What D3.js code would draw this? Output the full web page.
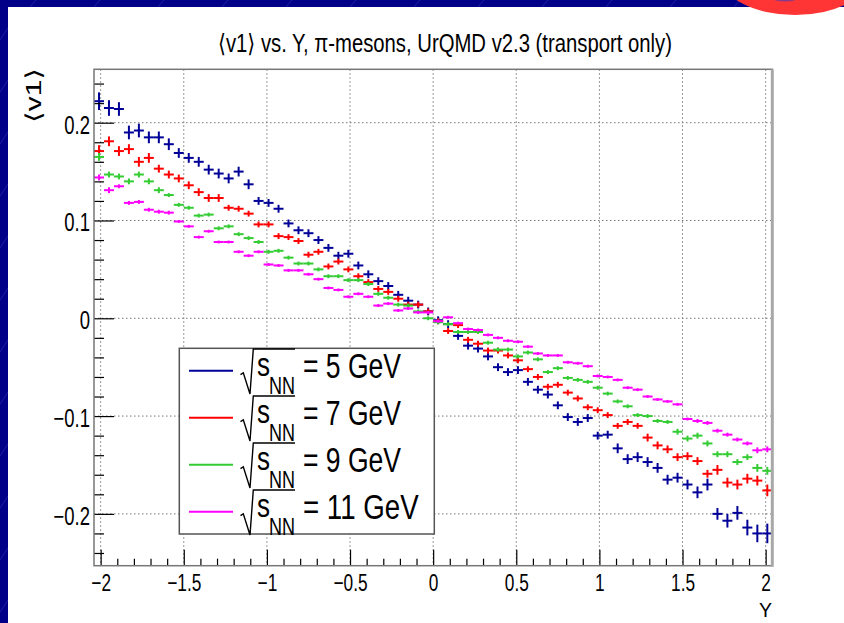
<!DOCTYPE html>
<html>
<head>
<meta charset="utf-8">
<script src="https://cdn.jsdelivr.net/npm/d3@7"></script>
<style>
  body { margin: 0; background: #000088; }
  svg { display: block; }
</style>
</head>
<body>
<svg id="chart" width="844" height="623"></svg>
<script>
// bin centres of the rapidity histogram (68 bins, width 0.06)
const rapidity = [
  -2.01, -1.95, -1.89, -1.83, -1.77, -1.71, -1.65, -1.59, -1.53, -1.47,
  -1.41, -1.35, -1.29, -1.23, -1.17, -1.11, -1.05, -0.99, -0.93, -0.87,
  -0.81, -0.75, -0.69, -0.63, -0.57, -0.51, -0.45, -0.39, -0.33, -0.27,
  -0.21, -0.15, -0.09, -0.03, 0.03, 0.09, 0.15, 0.21, 0.27, 0.33,
  0.39, 0.45, 0.51, 0.57, 0.63, 0.69, 0.75, 0.81, 0.87, 0.93,
  0.99, 1.05, 1.11, 1.17, 1.23, 1.29, 1.35, 1.41, 1.47, 1.53,
  1.59, 1.65, 1.71, 1.77, 1.83, 1.89, 1.95, 2.01]
const binHalfWidth = 0.03

const energies = ["5", "7", "9", "11"]
const seriesColors = ["#000099", "#ff0000", "#33cc33", "#ff00ff"]

const v1_5GeV = [
  0.222, 0.215, 0.214, 0.190, 0.192, 0.185, 0.185, 0.178, 0.169, 0.164,
  0.160, 0.152, 0.148, 0.143, 0.150, 0.137, 0.120, 0.118, 0.112, 0.097,
  0.090, 0.087, 0.080, 0.072, 0.064, 0.066, 0.054, 0.045, 0.038, 0.033,
  0.024, 0.018, 0.014, 0.007, -0.002, -0.006, -0.018, -0.028, -0.031, -0.039,
  -0.050, -0.055, -0.053, -0.065, -0.073, -0.078, -0.089, -0.101, -0.106, -0.102,
  -0.120, -0.119, -0.133, -0.144, -0.142, -0.147, -0.153, -0.165, -0.163, -0.170,
  -0.178, -0.170, -0.200, -0.207, -0.199, -0.214, -0.220, -0.220]
const v1_7GeV = [
  0.171, 0.181, 0.171, 0.173, 0.160, 0.164, 0.153, 0.147, 0.143, 0.136,
  0.129, 0.123, 0.123, 0.113, 0.112, 0.107, 0.096, 0.096, 0.084, 0.083,
  0.079, 0.065, 0.068, 0.053, 0.058, 0.050, 0.043, 0.037, 0.030, 0.027,
  0.020, 0.014, 0.014, 0.007, -0.003, -0.013, -0.007, -0.022, -0.026, -0.033,
  -0.033, -0.038, -0.043, -0.052, -0.060, -0.070, -0.068, -0.076, -0.082, -0.091,
  -0.094, -0.099, -0.110, -0.106, -0.110, -0.122, -0.130, -0.134, -0.142, -0.141,
  -0.146, -0.159, -0.155, -0.168, -0.170, -0.164, -0.166, -0.176]
const v1_9GeV = [
  0.165, 0.147, 0.145, 0.140, 0.147, 0.140, 0.131, 0.126, 0.116, 0.113,
  0.105, 0.106, 0.092, 0.094, 0.086, 0.082, 0.078, 0.068, 0.069, 0.062,
  0.056, 0.056, 0.050, 0.043, 0.043, 0.039, 0.039, 0.035, 0.025, 0.021,
  0.014, 0.013, 0.007, 0.000, -0.004, -0.006, -0.014, -0.014, -0.014, -0.025,
  -0.032, -0.032, -0.039, -0.035, -0.042, -0.055, -0.051, -0.061, -0.063, -0.065,
  -0.071, -0.077, -0.085, -0.090, -0.099, -0.100, -0.105, -0.106, -0.116, -0.123,
  -0.120, -0.128, -0.139, -0.139, -0.147, -0.142, -0.153, -0.156]
const v1_11GeV = [
  0.144, 0.131, 0.135, 0.118, 0.119, 0.111, 0.109, 0.108, 0.099, 0.094,
  0.083, 0.089, 0.078, 0.078, 0.068, 0.064, 0.068, 0.055, 0.054, 0.049,
  0.049, 0.045, 0.040, 0.031, 0.029, 0.022, 0.025, 0.022, 0.013, 0.015,
  0.008, 0.010, 0.006, 0.006, -0.003, 0.001, -0.005, -0.011, -0.012, -0.017,
  -0.020, -0.023, -0.024, -0.029, -0.036, -0.038, -0.038, -0.045, -0.046, -0.049,
  -0.059, -0.060, -0.063, -0.071, -0.073, -0.080, -0.083, -0.085, -0.088, -0.103,
  -0.105, -0.107, -0.115, -0.119, -0.124, -0.128, -0.135, -0.134]

// statistical errors (vertical half bars)
const err_5GeV = [
  0.009, 0.008, 0.007, 0.007, 0.007, 0.006, 0.006, 0.006, 0.005, 0.005,
  0.005, 0.005, 0.005, 0.005, 0.005, 0.005, 0.004, 0.004, 0.004, 0.004,
  0.004, 0.004, 0.004, 0.004, 0.004, 0.004, 0.004, 0.004, 0.004, 0.004,
  0.004, 0.004, 0.004, 0.004, 0.004, 0.004, 0.004, 0.004, 0.004, 0.004,
  0.004, 0.004, 0.004, 0.004, 0.004, 0.004, 0.004, 0.004, 0.004, 0.004,
  0.004, 0.004, 0.005, 0.005, 0.005, 0.005, 0.005, 0.005, 0.005, 0.005,
  0.006, 0.006, 0.006, 0.007, 0.007, 0.008, 0.009, 0.010]
const err_7GeV = [
  0.006, 0.005, 0.005, 0.005, 0.005, 0.005, 0.004, 0.004, 0.004, 0.004,
  0.004, 0.004, 0.004, 0.003, 0.003, 0.003, 0.003, 0.003, 0.003, 0.003,
  0.003, 0.003, 0.003, 0.003, 0.003, 0.003, 0.003, 0.003, 0.003, 0.003,
  0.003, 0.003, 0.003, 0.003, 0.003, 0.003, 0.003, 0.003, 0.003, 0.003,
  0.003, 0.003, 0.003, 0.003, 0.003, 0.003, 0.003, 0.003, 0.003, 0.003,
  0.003, 0.003, 0.003, 0.003, 0.003, 0.004, 0.004, 0.004, 0.004, 0.004,
  0.004, 0.004, 0.005, 0.005, 0.005, 0.005, 0.005, 0.006]
const err_9GeV = [
  0.004, 0.003, 0.003, 0.003, 0.003, 0.003, 0.003, 0.002, 0.002, 0.002,
  0.002, 0.002, 0.002, 0.002, 0.002, 0.002, 0.002, 0.002, 0.002, 0.002,
  0.002, 0.002, 0.002, 0.002, 0.002, 0.002, 0.002, 0.002, 0.002, 0.002,
  0.002, 0.002, 0.002, 0.002, 0.002, 0.002, 0.002, 0.002, 0.002, 0.002,
  0.002, 0.002, 0.002, 0.002, 0.002, 0.002, 0.002, 0.002, 0.002, 0.002,
  0.002, 0.002, 0.002, 0.002, 0.002, 0.002, 0.002, 0.002, 0.003, 0.003,
  0.003, 0.003, 0.003, 0.003, 0.003, 0.003, 0.004, 0.004]
const err_11GeV = [
  0.003, 0.003, 0.002, 0.002, 0.002, 0.002, 0.002, 0.002, 0.0015, 0.0015,
  0.0015, 0.0015, 0.0015, 0.0015, 0.0015, 0.0015, 0.0015, 0.0015, 0.0015, 0.0015,
  0.0015, 0.0015, 0.0015, 0.0015, 0.0015, 0.0015, 0.0015, 0.0015, 0.0015, 0.0015,
  0.0015, 0.0015, 0.0015, 0.0015, 0.0015, 0.0015, 0.0015, 0.0015, 0.0015, 0.0015,
  0.0015, 0.0015, 0.0015, 0.0015, 0.0015, 0.0015, 0.0015, 0.0015, 0.0015, 0.0015,
  0.0015, 0.0015, 0.0015, 0.0015, 0.0015, 0.0015, 0.0015, 0.0015, 0.0015, 0.0015,
  0.002, 0.002, 0.002, 0.002, 0.002, 0.002, 0.003, 0.003]

const xMajorTicks = [-2, -1.5, -1, -0.5, 0, 0.5, 1, 1.5, 2]
const yMajorTicks = [-0.2, -0.1, 0, 0.1, 0.2]

const titleText = "\u27E8v1\u27E9 vs. Y, \u03C0-mesons, UrQMD v2.3 (transport only)"
const xTitle = "Y"
const yTitle = "\u27E8v1\u27E9"

class v1_plot {
    constructor(svg_id) {
        this.width = 844
        this.height = 623
        this.svg = d3.select(svg_id)
        this.frame = { left: 94, right: 772.3, top: 69.3, bottom: 565.7 }
        this.font = "'Liberation Sans', Arial, 'DejaVu Sans', sans-serif"
        this.series = [
            { values: v1_5GeV, errors: err_5GeV },
            { values: v1_7GeV, errors: err_7GeV },
            { values: v1_9GeV, errors: err_9GeV },
            { values: v1_11GeV, errors: err_11GeV }
        ]
    }

    init() {
        this.set_scale()
        this.draw_background()
        this.draw_grid()
        this.draw_points()
        this.draw_axes()
        this.draw_frame()
        this.draw_legend()
        this.draw_titles()
    }

    set_scale() {
        this.x = d3.scaleLinear().domain([-2.04, 2.04]).range([this.frame.left, this.frame.right])
        this.y = d3.scaleLinear().domain([-0.253, 0.2546]).range([this.frame.bottom, this.frame.top])
    }

    draw_background() {
        var bg = this.svg.append("g")
        bg.append("rect").attr("width", this.width).attr("height", this.height).attr("fill", "#000088")
        // faint streaks on the slide background
        var streaks = bg.append("g").attr("stroke", "#3848b8").attr("stroke-width", 0.8).attr("opacity", 0.6)
        for (var k = 0; k < 12; k++) {
            streaks.append("line").attr("x1", 0).attr("y1", 40 + k * 52).attr("x2", 8).attr("y2", 28 + k * 52)
            streaks.append("line").attr("x1", 30 + k * 64).attr("y1", 7).attr("x2", 36 + k * 64).attr("y2", 0)
        }
        bg.append("rect").attr("x", 8).attr("y", 7).attr("width", this.width - 8).attr("height", this.height - 7).attr("fill", "white")
        bg.append("ellipse").attr("cx", 795).attr("cy", -25).attr("rx", 75).attr("ry", 40).attr("fill", "#ff3535")
        bg.append("ellipse").attr("cx", 785).attr("cy", -2).attr("rx", 13).attr("ry", 3.5).attr("fill", "#8a3a8a")
    }

    draw_grid() {
        var f = this.frame
        var grid = this.svg.append("g").attr("class", "grid")
            .attr("stroke", "#777").attr("stroke-width", 1).attr("stroke-dasharray", "1.5,2.5")
        grid.selectAll(".gx").data(xMajorTicks).join("line")
            .attr("x1", d => this.x(d)).attr("x2", d => this.x(d))
            .attr("y1", f.top).attr("y2", f.bottom)
        grid.selectAll(".gy").data(yMajorTicks).join("line")
            .attr("class", "gy")
            .attr("x1", f.left).attr("x2", f.right)
            .attr("y1", d => this.y(d)).attr("y2", d => this.y(d))
    }

    draw_points() {
        var g = this.svg.append("g").attr("class", "points")
        this.series.forEach((s, si) => {
            var pts = rapidity.map((c, i) => ({ c: c, v: s.values[i], e: s.errors[i] }))
            var sg = g.append("g").attr("stroke", seriesColors[si]).attr("stroke-width", 2)
            sg.selectAll(".h").data(pts).join("line")
                .attr("class", "h")
                .attr("x1", d => this.x(d.c - binHalfWidth)).attr("x2", d => this.x(d.c + binHalfWidth))
                .attr("y1", d => this.y(d.v)).attr("y2", d => this.y(d.v))
            sg.selectAll(".v").data(pts).join("line")
                .attr("class", "v")
                .attr("x1", d => this.x(d.c)).attr("x2", d => this.x(d.c))
                .attr("y1", d => this.y(d.v - d.e)).attr("y2", d => this.y(d.v + d.e))
        })
    }

    draw_axes() {
        var f = this.frame
        var xMinor = d3.range(-20, 21).map(d => d / 10).filter(d => !xMajorTicks.includes(d))
        var yMinor = d3.range(-12, 13).map(d => d / 50).filter(d => Math.abs(d * 10 - Math.round(d * 10)) > 1e-6)

        var xa = this.svg.append("g").attr("transform", "translate(0," + f.bottom + ")")
            .call(d3.axisBottom(this.x).tickValues(xMajorTicks).tickSize(-16).tickSizeOuter(0)
                .tickFormat(d => d3.format("")(d).replace("-", "\u2212")))
        var xm = this.svg.append("g").attr("transform", "translate(0," + f.bottom + ")")
            .call(d3.axisBottom(this.x).tickValues(xMinor).tickSize(-7).tickSizeOuter(0).tickFormat(""))

        var ya = this.svg.append("g").attr("transform", "translate(" + f.left + ",0)")
            .call(d3.axisLeft(this.y).tickValues(yMajorTicks).tickSize(-20).tickSizeOuter(0)
                .tickFormat(d => d3.format("")(d).replace("-", "\u2212")))
        var ym = this.svg.append("g").attr("transform", "translate(" + f.left + ",0)")
            .call(d3.axisLeft(this.y).tickValues(yMinor).tickSize(-10).tickSizeOuter(0).tickFormat(""))

        ;[xa, xm, ya, ym].forEach(a => {
            a.select(".domain").remove()
            a.selectAll("line").attr("stroke", "#000").attr("stroke-width", 1.2)
        })
        xa.selectAll("text")
            .attr("y", null).attr("dy", null)
            .attr("transform", "translate(0,25.5) scale(0.72,1)")
            .attr("font-family", this.font).attr("font-size", 24).attr("fill", "#000")
        ya.selectAll("text")
            .attr("x", null).attr("dy", null)
            .attr("transform", "translate(-4,10.5) scale(0.74,1)")
            .attr("font-family", this.font).attr("font-size", 25).attr("fill", "#000")
    }

    draw_frame() {
        var f = this.frame
        this.svg.append("rect")
            .attr("x", f.left).attr("y", f.top)
            .attr("width", f.right - f.left).attr("height", f.bottom - f.top)
            .attr("fill", "none").attr("stroke", "#777").attr("stroke-width", 1.5)
        this.svg.append("line")
            .attr("x1", f.right).attr("x2", f.right).attr("y1", f.top).attr("y2", f.bottom + 1)
            .attr("stroke", "#a8a8a8").attr("stroke-width", 3)
    }

    draw_legend() {
        var lg = this.svg.append("g").attr("class", "legend")
        lg.append("rect")
            .attr("x", 179.3).attr("y", 348.3).attr("width", 255).attr("height", 185.7)
            .attr("fill", "white").attr("stroke", "#555").attr("stroke-width", 1.5)
        var rowY = d3.scalePoint().domain(energies).range([370.7, 511.7])
        var rows = lg.selectAll(".row").data(energies).join("g")
            .attr("class", "row")
            .attr("transform", d => "translate(0," + rowY(d) + ")")
        rows.append("line")
            .attr("x1", 189).attr("x2", 233).attr("y1", 0).attr("y2", 0)
            .attr("stroke", (d, i) => seriesColors[i]).attr("stroke-width", 2)
        rows.append("path")
            .attr("d", "M240.5,4 L243.3,2.2 L250,23.3 L253.3,-21.7 L295,-21.7")
            .attr("fill", "none").attr("stroke", "#000").attr("stroke-width", 1.4)
        rows.append("text")
            .attr("x", 257).attr("y", 5.5)
            .attr("font-family", this.font).attr("font-size", 34)
            .attr("textLength", 13).attr("lengthAdjust", "spacingAndGlyphs")
            .text("s")
        rows.append("text")
            .attr("x", 269).attr("y", 23.3)
            .attr("font-family", this.font).attr("font-size", 24)
            .attr("textLength", 26).attr("lengthAdjust", "spacingAndGlyphs")
            .text("NN")
        rows.append("text")
            .attr("x", 303).attr("y", 7.6)
            .attr("font-family", this.font).attr("font-size", 35)
            .attr("textLength", d => d.length > 1 ? 115.7 : 98).attr("lengthAdjust", "spacingAndGlyphs")
            .text(d => "= " + d + " GeV")
    }

    draw_titles() {
        this.svg.append("text")
            .attr("x", 218).attr("y", 52)
            .attr("font-family", this.font).attr("font-size", 25)
            .attr("textLength", 454).attr("lengthAdjust", "spacingAndGlyphs")
            .text(titleText)
        this.svg.append("text")
            .attr("x", 772).attr("y", 617).attr("text-anchor", "end")
            .attr("font-family", this.font).attr("font-size", 20)
            .attr("textLength", 13).attr("lengthAdjust", "spacingAndGlyphs")
            .text(xTitle)
        this.svg.append("text")
            .attr("transform", "translate(41,68) rotate(-90)")
            .attr("text-anchor", "end")
            .attr("font-family", this.font).attr("font-size", 22)
            .attr("textLength", 55).attr("lengthAdjust", "spacingAndGlyphs")
            .text(yTitle)
    }
}

var p = new v1_plot("#chart")
p.init()
</script>
</body>
</html>
